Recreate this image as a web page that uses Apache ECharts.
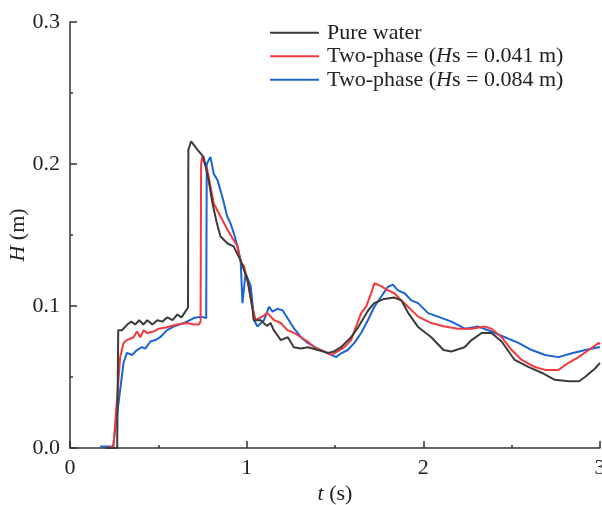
<!DOCTYPE html>
<html>
<head>
<meta charset="utf-8">
<script src="https://cdn.jsdelivr.net/npm/echarts@6/dist/echarts.min.js"></script>
<style>
  html, body { margin: 0; padding: 0; background: #fff; }
  #chart { width: 602px; height: 505px; }
</style>
</head>
<body>
<div id="chart"></div>
<script>
//********************************************************************** data
var seriesNames = ['Pure water', 'Two-phase (Hs = 0.041 m)', 'Two-phase (Hs = 0.084 m)'];
var seriesColors = ['#3b3b3b', '#f23a3c', '#1a63d6'];

// pure water: time (s) and wave height (m)
var pureT = [0.20, 0.267, 0.273, 0.295, 0.324, 0.347, 0.369, 0.392, 0.415, 0.438, 0.466, 0.494, 0.523, 0.551, 0.580,
    0.608, 0.631, 0.653, 0.668, 0.670, 0.686, 0.722, 0.756, 0.784, 0.807, 0.830, 0.852, 0.892, 0.926, 0.966,
    1.006, 1.032, 1.040, 1.080, 1.114, 1.136, 1.153, 1.182, 1.193, 1.233, 1.267, 1.307, 1.347, 1.403, 1.460,
    1.494, 1.534, 1.591, 1.631, 1.688, 1.722, 1.778, 1.835, 1.875, 1.915, 1.972, 2.045, 2.114, 2.159, 2.233,
    2.273, 2.330, 2.386, 2.443, 2.517, 2.597, 2.670, 2.744, 2.824, 2.881, 2.915, 2.972, 3.000];
var pureH = [0.000, 0.000, 0.083, 0.083, 0.087, 0.089, 0.087, 0.090, 0.087, 0.090, 0.087, 0.090, 0.089, 0.092, 0.090,
    0.094, 0.092, 0.096, 0.099, 0.210, 0.216, 0.210, 0.205, 0.189, 0.172, 0.159, 0.149, 0.144, 0.142, 0.132,
    0.118, 0.099, 0.090, 0.090, 0.086, 0.088, 0.083, 0.078, 0.076, 0.078, 0.071, 0.070, 0.071, 0.069, 0.067,
    0.068, 0.071, 0.078, 0.085, 0.097, 0.102, 0.105, 0.106, 0.104, 0.095, 0.085, 0.078, 0.069, 0.068, 0.071,
    0.076, 0.081, 0.081, 0.075, 0.062, 0.057, 0.053, 0.048, 0.047, 0.047, 0.050, 0.056, 0.060];

// two-phase, Hs = 0.041 m
var hs041T = [0.20, 0.246, 0.284, 0.303, 0.322, 0.360, 0.379, 0.398, 0.416, 0.436, 0.473, 0.502, 0.549, 0.606, 0.663,
    0.701, 0.729, 0.739, 0.742, 0.748, 0.777, 0.814, 0.852, 0.890, 0.928, 0.949, 0.966, 0.985, 1.004, 1.032,
    1.051, 1.080, 1.118, 1.155, 1.193, 1.231, 1.269, 1.307, 1.345, 1.382, 1.439, 1.477, 1.515, 1.553, 1.591,
    1.619, 1.648, 1.676, 1.705, 1.723, 1.761, 1.799, 1.837, 1.875, 1.913, 1.951, 1.970, 2.045, 2.121, 2.197,
    2.273, 2.348, 2.386, 2.443, 2.500, 2.557, 2.632, 2.689, 2.765, 2.822, 2.879, 2.936, 2.993, 3.000];
var hs041H = [0.000, 0.001, 0.064, 0.074, 0.076, 0.078, 0.082, 0.078, 0.083, 0.081, 0.082, 0.084, 0.085, 0.087, 0.088,
    0.087, 0.087, 0.089, 0.199, 0.205, 0.196, 0.172, 0.163, 0.154, 0.146, 0.142, 0.131, 0.128, 0.118, 0.0995,
    0.090, 0.092, 0.095, 0.090, 0.088, 0.083, 0.081, 0.078, 0.075, 0.071, 0.068, 0.0655, 0.068, 0.071, 0.076,
    0.0855, 0.095, 0.0995, 0.109, 0.116, 0.114, 0.111, 0.109, 0.104, 0.0995, 0.095, 0.0925, 0.088, 0.0855, 0.084,
    0.084, 0.0855, 0.084, 0.078, 0.069, 0.062, 0.057, 0.055, 0.055, 0.060, 0.064, 0.069, 0.074, 0.073];

// two-phase, Hs = 0.084 m
var hs084T = [0.170, 0.244, 0.284, 0.303, 0.322, 0.351, 0.379, 0.407, 0.426, 0.455, 0.483, 0.511, 0.549, 0.587, 0.644,
    0.701, 0.739, 0.771, 0.774, 0.795, 0.814, 0.834, 0.862, 0.890, 0.909, 0.928, 0.947, 0.966, 0.976, 0.994,
    1.023, 1.042, 1.061, 1.098, 1.127, 1.146, 1.174, 1.203, 1.231, 1.269, 1.307, 1.345, 1.402, 1.459, 1.506,
    1.534, 1.572, 1.610, 1.648, 1.686, 1.723, 1.761, 1.799, 1.828, 1.856, 1.894, 1.932, 1.970, 2.027, 2.083,
    2.159, 2.235, 2.311, 2.386, 2.462, 2.538, 2.614, 2.689, 2.765, 2.841, 2.917, 2.993, 3.000];
var hs084H = [0.001, 0.001, 0.041, 0.060, 0.067, 0.0655, 0.069, 0.071, 0.070, 0.075, 0.076, 0.078, 0.083, 0.0855, 0.088,
    0.0915, 0.0925, 0.0915, 0.200, 0.205, 0.193, 0.189, 0.177, 0.163, 0.158, 0.151, 0.142, 0.132, 0.102, 0.123,
    0.114, 0.090, 0.0855, 0.090, 0.0995, 0.096, 0.098, 0.097, 0.0915, 0.084, 0.078, 0.074, 0.070, 0.0667, 0.064,
    0.0667, 0.069, 0.074, 0.081, 0.090, 0.0995, 0.1065, 0.1135, 0.115, 0.111, 0.109, 0.104, 0.102, 0.095, 0.0925,
    0.089, 0.084, 0.0855, 0.082, 0.078, 0.074, 0.069, 0.0655, 0.064, 0.0667, 0.069, 0.071, 0.071];

//********************************************************************** build chart
function pairs(t, h) {
    let out = [];
    for (let i = 0; i < t.length; i++) {
        out.push([t[i], h[i]]);
    }
    return out;
}

var font = "'Liberation Serif', 'Times New Roman', serif";
var axisColor = '#333';
var textColor = '#222';

var chart = echarts.init(document.getElementById('chart'));
var option = {
    animation: false,
    backgroundColor: '#fff',
    textStyle: { fontFamily: font },
    grid: { left: 70, right: 2, top: 22, bottom: 57, outerBoundsMode: 'none', containLabel: false },
    legend: {
        orient: 'vertical',
        left: 270,
        top: 21,
        padding: 0,
        icon: 'rect',
        itemWidth: 49,
        itemHeight: 2,
        itemGap: 0,
        data: seriesNames,
        formatter: function (name) {
            return name.replace('(Hs', '({i|H}s');
        },
        textStyle: {
            fontFamily: font,
            fontSize: 22,
            color: textColor,
            lineHeight: 23.5,
            padding: [0, 0, 0, 3],
            rich: {
                i: { fontFamily: font, fontSize: 22, fontStyle: 'italic', color: textColor, lineHeight: 23.5 }
            }
        }
    },
    xAxis: {
        type: 'value',
        min: 0,
        max: 3,
        interval: 1,
        name: '{i|t} (s)',
        nameLocation: 'middle',
        nameGap: 35,
        nameMoveOverlap: false,
        nameTextStyle: {
            fontFamily: font, fontSize: 22, color: textColor,
            rich: { i: { fontFamily: font, fontSize: 22, fontStyle: 'italic', color: textColor } }
        },
        axisLine: { lineStyle: { color: axisColor, width: 1.5 } },
        axisTick: { inside: true, length: 7, lineStyle: { color: axisColor, width: 1.5 } },
        minorTick: { show: true, splitNumber: 2, length: 3, lineStyle: { color: axisColor, width: 1.5 } },
        axisLabel: { fontFamily: font, fontSize: 22, color: textColor, margin: 9 },
        splitLine: { show: false }
    },
    yAxis: {
        type: 'value',
        min: 0,
        max: 0.3,
        interval: 0.1,
        name: '{i|H} (m)',
        nameLocation: 'middle',
        nameGap: 41,
        nameRotate: 90,
        nameMoveOverlap: false,
        nameTextStyle: {
            fontFamily: font, fontSize: 22, color: textColor,
            rich: { i: { fontFamily: font, fontSize: 22, fontStyle: 'italic', color: textColor } }
        },
        axisLine: { show: true, lineStyle: { color: axisColor, width: 1.5 } },
        axisTick: { show: true, inside: true, length: 7, lineStyle: { color: axisColor, width: 1.5 } },
        minorTick: { show: true, splitNumber: 2, length: 3, lineStyle: { color: axisColor, width: 1.5 } },
        axisLabel: {
            fontFamily: font, fontSize: 22, color: textColor, margin: 10,
            formatter: function (v) { return v.toFixed(1); }
        },
        splitLine: { show: false }
    },
    series: [
        { name: seriesNames[0], type: 'line', data: pairs(pureT, pureH) },
        { name: seriesNames[1], type: 'line', data: pairs(hs041T, hs041H) },
        { name: seriesNames[2], type: 'line', data: pairs(hs084T, hs084H) }
    ].map(function (s, i) {
        s.showSymbol = false;
        s.symbol = 'none';
        s.color = seriesColors[i];
        s.lineStyle = { width: 2, color: seriesColors[i] };
        s.z = 3 - i;
        return s;
    })
};
chart.setOption(option);
</script>
</body>
</html>
